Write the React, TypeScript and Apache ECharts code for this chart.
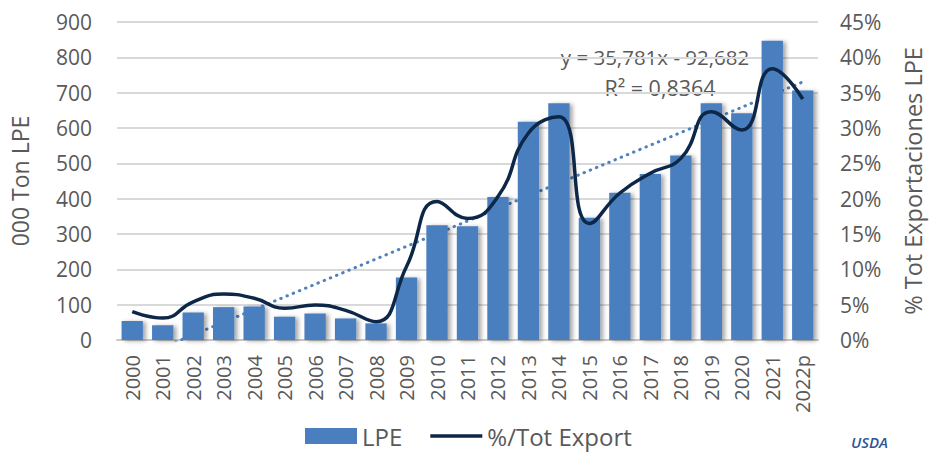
import React, { useEffect, useRef } from "react";
import * as echarts from "echarts";

const categories = [
  "2000", "2001", "2002", "2003", "2004", "2005", "2006", "2007", "2008", "2009",
  "2010", "2011", "2012", "2013", "2014", "2015", "2016", "2017", "2018", "2019",
  "2020", "2021", "2022p",
];
const lpeValues = [54, 42, 78, 93, 95, 66, 75, 61, 47, 177, 325, 322, 405, 618, 670, 346, 417, 470, 522, 670, 642, 847, 706];
const pctExportValues = [4.0, 3.1, 5.4, 6.5, 5.9, 4.5, 4.95, 4.2, 2.6, 10.4, 19.6, 17.2, 20.3, 29.3, 31.6, 16.5, 20.8, 23.6, 25.7, 32.3, 29.7, 38.4, 34.1];
const leftTicks = { min: 0, max: 900, interval: 100 };
const rightTicks = { min: 0, max: 45, interval: 5 };
const trendSlope = 35.781;
const trendIntercept = -92.682;
const equationText = "y = 35,781x - 92,682";
const r2Text = "R\u00b2 = 0,8364";

const FONT = "'Open Sans', 'Liberation Sans', sans-serif";
const GRAY = "#595959";

export default function App() {
  const ref = useRef<HTMLDivElement>(null);
  useEffect(() => {
    if (!ref.current) return;
    const chart = echarts.init(ref.current, null, { renderer: "svg" });
    const n = categories.length;
    const trend = categories.map((_, i) =>
      i === 0 || i === n - 1 ? trendSlope * (i + 1) + trendIntercept : null
    );
    chart.setOption({
      animation: false,
      textStyle: { fontFamily: FONT },
      grid: { left: 110, right: 106, top: 22, bottom: 116 },
      legend: {
        left: 305,
        top: 424,
        padding: 0,
        itemWidth: 52,
        itemHeight: 16,
        itemGap: 28,
        textStyle: { fontSize: 24, color: GRAY, fontFamily: FONT },
        data: [
          { name: "LPE", icon: "rect" },
          { name: "%/Tot Export", icon: "path://M0 0H56V4H0Z" },
        ],
      },
      xAxis: {
        type: "category",
        data: categories,
        axisTick: { show: false },
        axisLine: { lineStyle: { color: "#c8c8c8", width: 2 } },
        axisLabel: { rotate: 90, fontSize: 20, color: GRAY, margin: 15, fontFamily: FONT },
      },
      yAxis: [
        {
          type: "value",
          min: leftTicks.min,
          max: leftTicks.max,
          interval: leftTicks.interval,
          name: "000 Ton LPE",
          nameLocation: "middle",
          nameRotate: 90,
          nameGap: 86,
          nameTextStyle: { fontSize: 23, color: GRAY, fontFamily: FONT },
          axisLabel: { fontSize: 21, color: GRAY, margin: 25, fontFamily: FONT },
          splitLine: { lineStyle: { color: "#d9d9d9", width: 2 } },
        },
        {
          type: "value",
          min: rightTicks.min,
          max: rightTicks.max,
          interval: rightTicks.interval,
          name: "% Tot Exportaciones LPE",
          nameLocation: "middle",
          nameRotate: 90,
          nameGap: 83,
          nameTextStyle: { fontSize: 23.5, color: GRAY, fontFamily: FONT },
          axisLabel: { fontSize: 21, color: GRAY, margin: 22, formatter: "{value}%", fontFamily: FONT },
          splitLine: { show: false },
        },
      ],
      series: [
        {
          name: "trend",
          type: "line",
          data: trend,
          connectNulls: true,
          symbol: "none",
          clip: true,
          z: 1,
          lineStyle: { color: "#4f81bd", width: 3, type: [0.5, 6.2], cap: "round" },
          silent: true,
        },
        {
          name: "LPE",
          type: "bar",
          data: lpeValues,
          barCategoryGap: "30%",
          z: 2,
          itemStyle: {
            color: "#4a7ebf",
            shadowColor: "rgba(0,0,0,0.35)",
            shadowBlur: 4,
            shadowOffsetX: 3,
            shadowOffsetY: 1,
          },
        },
        {
          name: "%/Tot Export",
          type: "line",
          yAxisIndex: 1,
          data: pctExportValues,
          smooth: 0.5,
          symbol: "none",
          z: 3,
          lineStyle: { color: "#0c2747", width: 3.5 },
          itemStyle: { color: "#0c2747" },
        },
      ],
      graphic: [
        {
          type: "text",
          x: 655,
          y: 57,
          style: { text: equationText, fontSize: 20.5, fill: GRAY, fontFamily: FONT, align: "center", verticalAlign: "middle" },
        },
        {
          type: "text",
          x: 660,
          y: 87,
          style: { text: r2Text, fontSize: 21.5, fill: GRAY, fontFamily: FONT, align: "center", verticalAlign: "middle" },
        },
        {
          type: "text",
          x: 851,
          y: 442,
          style: { text: "USDA", fontSize: 15, fontStyle: "italic", fontWeight: 600, fill: "#2f5597", fontFamily: FONT, verticalAlign: "middle" },
        },
      ],
    });
    return () => chart.dispose();
  }, []);
  return <div ref={ref} style={{ position: "absolute", left: 0, top: 0, width: 933, height: 456 }} />;
}
